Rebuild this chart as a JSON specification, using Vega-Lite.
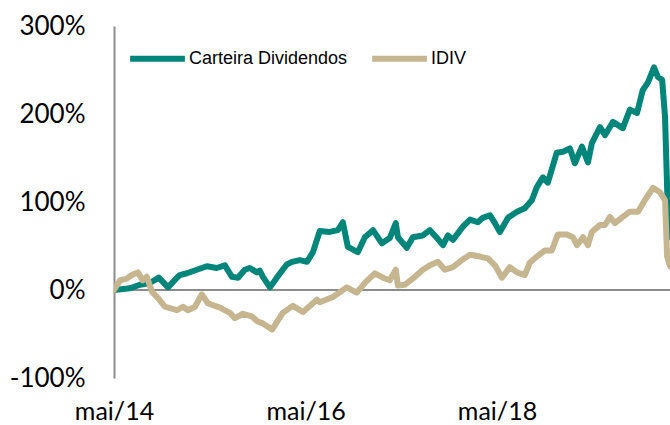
{
  "$schema": "https://vega.github.io/schema/vega-lite/v6.json",
  "width": 556,
  "height": 352,
  "autosize": "none",
  "padding": {"left": 114, "top": 26, "right": 0, "bottom": 47},
  "background": "white",
  "config": {"view": {"stroke": null}},
  "datasets": {
    "series": [
      {"d": "2014-05-01", "s": "Carteira Dividendos", "v": 0},
      {"d": "2014-07-01", "s": "Carteira Dividendos", "v": 2},
      {"d": "2014-08-08", "s": "Carteira Dividendos", "v": 6},
      {"d": "2014-09-15", "s": "Carteira Dividendos", "v": 8},
      {"d": "2014-10-19", "s": "Carteira Dividendos", "v": 14},
      {"d": "2014-11-23", "s": "Carteira Dividendos", "v": 3},
      {"d": "2014-12-27", "s": "Carteira Dividendos", "v": 14},
      {"d": "2015-01-07", "s": "Carteira Dividendos", "v": 17},
      {"d": "2015-02-03", "s": "Carteira Dividendos", "v": 19},
      {"d": "2015-03-13", "s": "Carteira Dividendos", "v": 23},
      {"d": "2015-04-20", "s": "Carteira Dividendos", "v": 27},
      {"d": "2015-05-28", "s": "Carteira Dividendos", "v": 25},
      {"d": "2015-06-28", "s": "Carteira Dividendos", "v": 28},
      {"d": "2015-07-25", "s": "Carteira Dividendos", "v": 15},
      {"d": "2015-08-17", "s": "Carteira Dividendos", "v": 14},
      {"d": "2015-09-12", "s": "Carteira Dividendos", "v": 23},
      {"d": "2015-10-01", "s": "Carteira Dividendos", "v": 25},
      {"d": "2015-10-28", "s": "Carteira Dividendos", "v": 20},
      {"d": "2015-11-08", "s": "Carteira Dividendos", "v": 22},
      {"d": "2015-11-20", "s": "Carteira Dividendos", "v": 15},
      {"d": "2015-12-17", "s": "Carteira Dividendos", "v": 3},
      {"d": "2016-01-12", "s": "Carteira Dividendos", "v": 14},
      {"d": "2016-02-19", "s": "Carteira Dividendos", "v": 29},
      {"d": "2016-03-10", "s": "Carteira Dividendos", "v": 32},
      {"d": "2016-04-09", "s": "Carteira Dividendos", "v": 34},
      {"d": "2016-05-06", "s": "Carteira Dividendos", "v": 32},
      {"d": "2016-05-29", "s": "Carteira Dividendos", "v": 43},
      {"d": "2016-06-24", "s": "Carteira Dividendos", "v": 67},
      {"d": "2016-08-01", "s": "Carteira Dividendos", "v": 66},
      {"d": "2016-09-01", "s": "Carteira Dividendos", "v": 68},
      {"d": "2016-09-20", "s": "Carteira Dividendos", "v": 77},
      {"d": "2016-10-09", "s": "Carteira Dividendos", "v": 49},
      {"d": "2016-11-16", "s": "Carteira Dividendos", "v": 43},
      {"d": "2016-12-13", "s": "Carteira Dividendos", "v": 60},
      {"d": "2017-01-13", "s": "Carteira Dividendos", "v": 68},
      {"d": "2017-02-16", "s": "Carteira Dividendos", "v": 53},
      {"d": "2017-03-18", "s": "Carteira Dividendos", "v": 59},
      {"d": "2017-04-10", "s": "Carteira Dividendos", "v": 76},
      {"d": "2017-04-18", "s": "Carteira Dividendos", "v": 60},
      {"d": "2017-05-22", "s": "Carteira Dividendos", "v": 48},
      {"d": "2017-06-14", "s": "Carteira Dividendos", "v": 60},
      {"d": "2017-07-22", "s": "Carteira Dividendos", "v": 62},
      {"d": "2017-08-18", "s": "Carteira Dividendos", "v": 68},
      {"d": "2017-09-14", "s": "Carteira Dividendos", "v": 59},
      {"d": "2017-10-07", "s": "Carteira Dividendos", "v": 51},
      {"d": "2017-10-26", "s": "Carteira Dividendos", "v": 62},
      {"d": "2017-11-14", "s": "Carteira Dividendos", "v": 57},
      {"d": "2017-12-22", "s": "Carteira Dividendos", "v": 72},
      {"d": "2018-01-18", "s": "Carteira Dividendos", "v": 80},
      {"d": "2018-02-17", "s": "Carteira Dividendos", "v": 77},
      {"d": "2018-03-08", "s": "Carteira Dividendos", "v": 82},
      {"d": "2018-04-04", "s": "Carteira Dividendos", "v": 85},
      {"d": "2018-04-23", "s": "Carteira Dividendos", "v": 76},
      {"d": "2018-05-12", "s": "Carteira Dividendos", "v": 66},
      {"d": "2018-06-12", "s": "Carteira Dividendos", "v": 82},
      {"d": "2018-07-16", "s": "Carteira Dividendos", "v": 89},
      {"d": "2018-08-15", "s": "Carteira Dividendos", "v": 93},
      {"d": "2018-09-11", "s": "Carteira Dividendos", "v": 102},
      {"d": "2018-09-30", "s": "Carteira Dividendos", "v": 117},
      {"d": "2018-10-23", "s": "Carteira Dividendos", "v": 128},
      {"d": "2018-11-11", "s": "Carteira Dividendos", "v": 122},
      {"d": "2018-12-15", "s": "Carteira Dividendos", "v": 156},
      {"d": "2019-01-07", "s": "Carteira Dividendos", "v": 157},
      {"d": "2019-02-03", "s": "Carteira Dividendos", "v": 161},
      {"d": "2019-02-22", "s": "Carteira Dividendos", "v": 144},
      {"d": "2019-03-21", "s": "Carteira Dividendos", "v": 163},
      {"d": "2019-04-13", "s": "Carteira Dividendos", "v": 145},
      {"d": "2019-04-28", "s": "Carteira Dividendos", "v": 167},
      {"d": "2019-05-29", "s": "Carteira Dividendos", "v": 185},
      {"d": "2019-06-17", "s": "Carteira Dividendos", "v": 176},
      {"d": "2019-07-17", "s": "Carteira Dividendos", "v": 191},
      {"d": "2019-08-24", "s": "Carteira Dividendos", "v": 184},
      {"d": "2019-09-20", "s": "Carteira Dividendos", "v": 205},
      {"d": "2019-10-17", "s": "Carteira Dividendos", "v": 201},
      {"d": "2019-11-08", "s": "Carteira Dividendos", "v": 227},
      {"d": "2019-11-28", "s": "Carteira Dividendos", "v": 236},
      {"d": "2019-12-21", "s": "Carteira Dividendos", "v": 253},
      {"d": "2020-01-05", "s": "Carteira Dividendos", "v": 242},
      {"d": "2020-01-21", "s": "Carteira Dividendos", "v": 239},
      {"d": "2020-02-01", "s": "Carteira Dividendos", "v": 197},
      {"d": "2020-02-13", "s": "Carteira Dividendos", "v": 76},
      {"d": "2020-02-20", "s": "Carteira Dividendos", "v": 60},
      {"d": "2014-05-01", "s": "IDIV", "v": 0},
      {"d": "2014-05-24", "s": "IDIV", "v": 11},
      {"d": "2014-06-19", "s": "IDIV", "v": 13},
      {"d": "2014-07-08", "s": "IDIV", "v": 17},
      {"d": "2014-07-31", "s": "IDIV", "v": 20},
      {"d": "2014-08-19", "s": "IDIV", "v": 11},
      {"d": "2014-09-03", "s": "IDIV", "v": 15},
      {"d": "2014-09-23", "s": "IDIV", "v": -2},
      {"d": "2014-10-15", "s": "IDIV", "v": -9},
      {"d": "2014-11-11", "s": "IDIV", "v": -19},
      {"d": "2014-12-27", "s": "IDIV", "v": -23},
      {"d": "2015-01-19", "s": "IDIV", "v": -19},
      {"d": "2015-02-07", "s": "IDIV", "v": -23},
      {"d": "2015-03-06", "s": "IDIV", "v": -19},
      {"d": "2015-04-01", "s": "IDIV", "v": -5},
      {"d": "2015-04-24", "s": "IDIV", "v": -15},
      {"d": "2015-06-09", "s": "IDIV", "v": -20},
      {"d": "2015-07-17", "s": "IDIV", "v": -26},
      {"d": "2015-08-05", "s": "IDIV", "v": -32},
      {"d": "2015-09-05", "s": "IDIV", "v": -27},
      {"d": "2015-10-09", "s": "IDIV", "v": -30},
      {"d": "2015-11-01", "s": "IDIV", "v": -36},
      {"d": "2015-11-20", "s": "IDIV", "v": -38},
      {"d": "2015-12-25", "s": "IDIV", "v": -45},
      {"d": "2016-02-04", "s": "IDIV", "v": -26},
      {"d": "2016-03-13", "s": "IDIV", "v": -18},
      {"d": "2016-04-21", "s": "IDIV", "v": -25},
      {"d": "2016-06-13", "s": "IDIV", "v": -11},
      {"d": "2016-06-24", "s": "IDIV", "v": -14},
      {"d": "2016-08-13", "s": "IDIV", "v": -8},
      {"d": "2016-10-05", "s": "IDIV", "v": 3},
      {"d": "2016-11-12", "s": "IDIV", "v": -3},
      {"d": "2016-12-13", "s": "IDIV", "v": 8},
      {"d": "2017-01-20", "s": "IDIV", "v": 19},
      {"d": "2017-02-20", "s": "IDIV", "v": 14},
      {"d": "2017-03-18", "s": "IDIV", "v": 11},
      {"d": "2017-04-10", "s": "IDIV", "v": 23},
      {"d": "2017-04-18", "s": "IDIV", "v": 5},
      {"d": "2017-05-15", "s": "IDIV", "v": 6},
      {"d": "2017-06-22", "s": "IDIV", "v": 15},
      {"d": "2017-07-22", "s": "IDIV", "v": 23},
      {"d": "2017-08-18", "s": "IDIV", "v": 28},
      {"d": "2017-09-18", "s": "IDIV", "v": 32},
      {"d": "2017-10-14", "s": "IDIV", "v": 23},
      {"d": "2017-11-14", "s": "IDIV", "v": 26},
      {"d": "2017-12-18", "s": "IDIV", "v": 34},
      {"d": "2018-01-18", "s": "IDIV", "v": 40},
      {"d": "2018-02-25", "s": "IDIV", "v": 38},
      {"d": "2018-03-27", "s": "IDIV", "v": 36},
      {"d": "2018-04-23", "s": "IDIV", "v": 28},
      {"d": "2018-05-20", "s": "IDIV", "v": 14},
      {"d": "2018-06-19", "s": "IDIV", "v": 26},
      {"d": "2018-07-16", "s": "IDIV", "v": 20},
      {"d": "2018-08-15", "s": "IDIV", "v": 17},
      {"d": "2018-09-03", "s": "IDIV", "v": 31},
      {"d": "2018-09-30", "s": "IDIV", "v": 38},
      {"d": "2018-10-31", "s": "IDIV", "v": 45},
      {"d": "2018-11-26", "s": "IDIV", "v": 45},
      {"d": "2018-12-19", "s": "IDIV", "v": 63},
      {"d": "2019-01-23", "s": "IDIV", "v": 63},
      {"d": "2019-02-14", "s": "IDIV", "v": 60},
      {"d": "2019-03-02", "s": "IDIV", "v": 51},
      {"d": "2019-03-25", "s": "IDIV", "v": 60},
      {"d": "2019-04-13", "s": "IDIV", "v": 51},
      {"d": "2019-04-28", "s": "IDIV", "v": 66},
      {"d": "2019-05-29", "s": "IDIV", "v": 74},
      {"d": "2019-06-17", "s": "IDIV", "v": 74},
      {"d": "2019-07-06", "s": "IDIV", "v": 83},
      {"d": "2019-07-25", "s": "IDIV", "v": 76},
      {"d": "2019-08-24", "s": "IDIV", "v": 83},
      {"d": "2019-09-20", "s": "IDIV", "v": 89},
      {"d": "2019-10-21", "s": "IDIV", "v": 89},
      {"d": "2019-11-16", "s": "IDIV", "v": 102},
      {"d": "2019-12-17", "s": "IDIV", "v": 116},
      {"d": "2020-01-13", "s": "IDIV", "v": 111},
      {"d": "2020-02-01", "s": "IDIV", "v": 102},
      {"d": "2020-02-09", "s": "IDIV", "v": 38},
      {"d": "2020-02-20", "s": "IDIV", "v": 27}
    ],
    "zero": [{"z": 0}]
  },
  "layer": [
    {
      "data": {"name": "zero"},
      "mark": {"type": "rule", "color": "#8c8c8c", "strokeWidth": 2},
      "encoding": {
        "y": {"field": "z", "type": "quantitative", "scale": {"domain": [-100, 300], "nice": false}}
      }
    },
    {
      "data": {"name": "series", "format": {"parse": {"d": "utc:'%Y-%m-%d'"}}},
      "mark": {"type": "line", "strokeWidth": 6, "strokeCap": "round", "strokeJoin": "round", "clip": true},
      "encoding": {
        "x": {
          "field": "d",
          "type": "temporal",
          "scale": {"type": "utc", "domain": [{"year": 2014, "month": 5, "date": 1, "utc": true}, {"year": 2020, "month": 2, "date": 20, "utc": true}], "nice": false},
          "axis": {
            "title": null,
            "domain": false,
            "ticks": false,
            "grid": false,
            "values": [{"year": 2014, "month": 5, "date": 1, "utc": true}, {"year": 2016, "month": 5, "date": 1, "utc": true}, {"year": 2018, "month": 5, "date": 1, "utc": true}],
            "labelExpr": "'mai/' + utcFormat(datum.value, '%y')",
            "labelFlush": false,
            "labelOverlap": false,
            "labelFont": "Lato",
            "labelFontSize": 25,
            "labelColor": "#000000",
            "labelPadding": 21
          }
        },
        "y": {
          "field": "v",
          "type": "quantitative",
          "scale": {"domain": [-100, 300], "nice": false},
          "axis": {
            "title": null,
            "grid": false,
            "ticks": false,
            "domainColor": "#8c8c8c",
            "domainWidth": 2,
            "values": [-100, 0, 100, 200, 300],
            "labelExpr": "datum.value + '%'",
            "labelFont": "Lato",
            "labelFontSize": 26,
            "labelColor": "#000000",
            "labelPadding": 29,
            "labelFlush": false
          }
        },
        "color": {
          "field": "s",
          "type": "nominal",
          "scale": {"domain": ["Carteira Dividendos", "IDIV"], "range": ["#00857a", "#c6b690"]},
          "legend": {
            "title": null,
            "orient": "none",
            "legendX": 13,
            "legendY": 2,
            "direction": "horizontal",
            "symbolType": "stroke",
            "symbolSize": 3000,
            "symbolStrokeWidth": 6,
            "labelFont": "Liberation Sans",
            "labelFontSize": 18,
            "labelColor": "#000000",
            "labelOffset": 1,
            "columnPadding": 12
          }
        }
      }
    }
  ]
}
